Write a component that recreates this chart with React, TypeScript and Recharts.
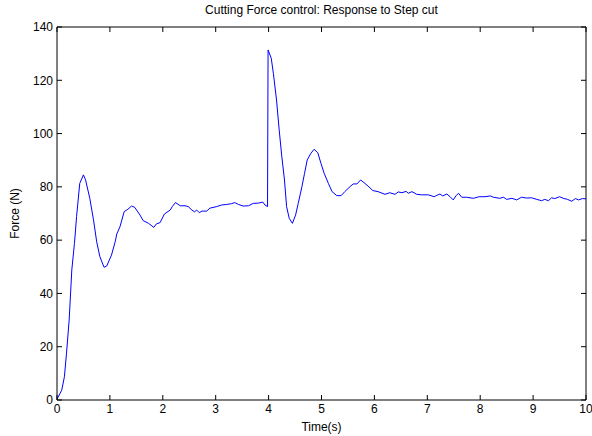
import { LineChart, Line, XAxis, YAxis, Label } from 'recharts';

// Step-cut force response
const timeS = [
  0, 0.09, 0.14, 0.18, 0.23, 0.28, 0.33, 0.37, 0.43, 0.5, 0.54, 0.62, 0.69, 0.75, 0.81, 0.89, 0.94,
  1.03, 1.1, 1.13, 1.19, 1.27, 1.34, 1.41, 1.47, 1.57, 1.63, 1.73, 1.83, 1.88, 1.95,
  2.03, 2.14, 2.18, 2.24, 2.33, 2.42, 2.48, 2.55, 2.6, 2.64, 2.69, 2.74, 2.83, 2.89,
  3.02, 3.11, 3.21, 3.3, 3.36, 3.43, 3.52, 3.62, 3.71, 3.81, 3.89, 3.93, 3.98,
  3.99, 4.05, 4.09, 4.15, 4.2, 4.25, 4.3, 4.34, 4.39, 4.45, 4.51, 4.56, 4.63, 4.68, 4.73, 4.8, 4.86, 4.93, 4.99,
  5.05, 5.13, 5.2, 5.29, 5.37, 5.44, 5.54, 5.6, 5.67, 5.74, 5.82, 5.88, 5.97,
  6.07, 6.2, 6.29, 6.39, 6.45, 6.52, 6.6, 6.64, 6.71, 6.8, 6.89,
  7.02, 7.13, 7.18, 7.24, 7.29, 7.37, 7.43, 7.49, 7.54, 7.59, 7.65, 7.74, 7.87, 7.98,
  8.09, 8.19, 8.25, 8.37, 8.44, 8.5, 8.6, 8.69, 8.78, 8.88, 8.97,
  9.07, 9.16, 9.22, 9.29, 9.35, 9.41, 9.5, 9.57, 9.65, 9.73, 9.8, 9.86, 9.93, 10,
];

const forceN = [
  0.3, 3.7, 8.7, 17.6, 30, 48.8, 58.8, 68.8, 81.3, 84.5, 82.6, 75.7, 67.6, 59.4, 53.8, 49.8, 50.3,
  54.4, 59.4, 62.3, 65, 70.7, 71.6, 72.8, 72.3, 69.4, 67.3, 66.3, 64.8, 66.1, 66.6,
  69.8, 71.3, 72.6, 74.1, 72.9, 72.9, 72.6, 71.3, 70.6, 71.3, 70.3, 70.9, 70.9, 72,
  72.6, 73.2, 73.4, 73.7, 74.1, 73.4, 72.8, 72.9, 73.8, 73.9, 74.3, 73.2, 72.6,
  131.4, 128.3, 122.6, 112.6, 101.4, 91.3, 82.6, 72.6, 68.2, 66.3, 69.4, 73.8, 80.1, 85.1, 90.1, 92.6, 94.1, 92.8, 88.8,
  85.1, 81.3, 78.2, 76.7, 76.7, 78.2, 80.1, 81.1, 81.1, 82.6, 81.3, 80.3, 78.6,
  78.2, 77.2, 77.8, 77.2, 78.1, 77.8, 78.3, 77.6, 78.2, 77.2, 77,
  77, 76.3, 76.8, 77.3, 76.6, 77.3, 76.3, 75.1, 76.6, 77.6, 76.1, 76.1, 75.7, 76.3,
  76.3, 76.6, 76.1, 75.7, 76.1, 75.3, 75.7, 75.1, 76.1, 75.8, 75.9,
  75.3, 74.8, 75.3, 74.8, 75.9, 75.6, 76.3, 75.7, 75.3, 74.6, 75.6, 75.1, 75.6, 75.5,
];

const xTicks = [0, 1, 2, 3, 4, 5, 6, 7, 8, 9, 10];
const yTicks = [0, 20, 40, 60, 80, 100, 120, 140];

const chartTitle = 'Cutting Force control: Response to Step cut';
const xLabel = 'Time(s)';
const yLabel = 'Force (N)';

const FONT = '"Liberation Sans", Arial, Helvetica, sans-serif';

export default function App() {
  const data = timeS.map((t, i) => ({ t, force: forceN[i] }));
  const tickStyle = { fontSize: 12, fill: '#000', fontFamily: FONT };
  const noLabel = () => '';

  return (
    <div style={{ position: 'absolute', left: 0, top: 0, width: 592, height: 436, background: '#fff', fontFamily: FONT }}>
      <div
        style={{
          position: 'absolute',
          left: 57,
          width: 529,
          top: 3,
          textAlign: 'center',
          fontSize: 12,
          lineHeight: '14px',
          color: '#000',
        }}
      >
        {chartTitle}
      </div>
      <LineChart width={592} height={436} data={data} margin={{ top: 22, right: 0, bottom: 0, left: 0 }}>
        <XAxis
          dataKey="t"
          type="number"
          domain={[0, 10]}
          ticks={xTicks}
          height={36}
          tickSize={-5}
          tickMargin={9}
          stroke="#000"
          tick={tickStyle}
          allowDataOverflow
        >
          <Label value={xLabel} position="insideBottom" offset={5} style={{ fontSize: 12, fill: '#000', fontFamily: FONT }} />
        </XAxis>
        <XAxis
          xAxisId="top"
          orientation="top"
          dataKey="t"
          type="number"
          domain={[0, 10]}
          ticks={xTicks}
          height={5}
          tickSize={-5}
          stroke="#000"
          tickFormatter={noLabel}
          allowDataOverflow
        />
        <YAxis
          type="number"
          domain={[0, 140]}
          ticks={yTicks}
          width={57}
          tickSize={-5}
          tickMargin={9}
          stroke="#000"
          tick={tickStyle}
          allowDataOverflow
        >
          <Label
            content={({ viewBox }: any) => {
              const cx = viewBox.x + 15;
              const cy = viewBox.y + viewBox.height / 2;
              return (
                <text
                  x={cx}
                  y={cy}
                  transform={`rotate(-90, ${cx}, ${cy})`}
                  textAnchor="middle"
                  dominantBaseline="central"
                  style={{ fontSize: 12, fill: '#000', fontFamily: FONT }}
                >
                  {yLabel}
                </text>
              );
            }}
          />
        </YAxis>
        <YAxis
          yAxisId="right"
          orientation="right"
          type="number"
          domain={[0, 140]}
          ticks={yTicks}
          width={6}
          tickSize={-5}
          stroke="#000"
          tickFormatter={noLabel}
          allowDataOverflow
        />
        <Line
          type="linear"
          dataKey="force"
          stroke="#0000ff"
          strokeWidth={1}
          dot={false}
          isAnimationActive={false}
        />
      </LineChart>
    </div>
  );
}
